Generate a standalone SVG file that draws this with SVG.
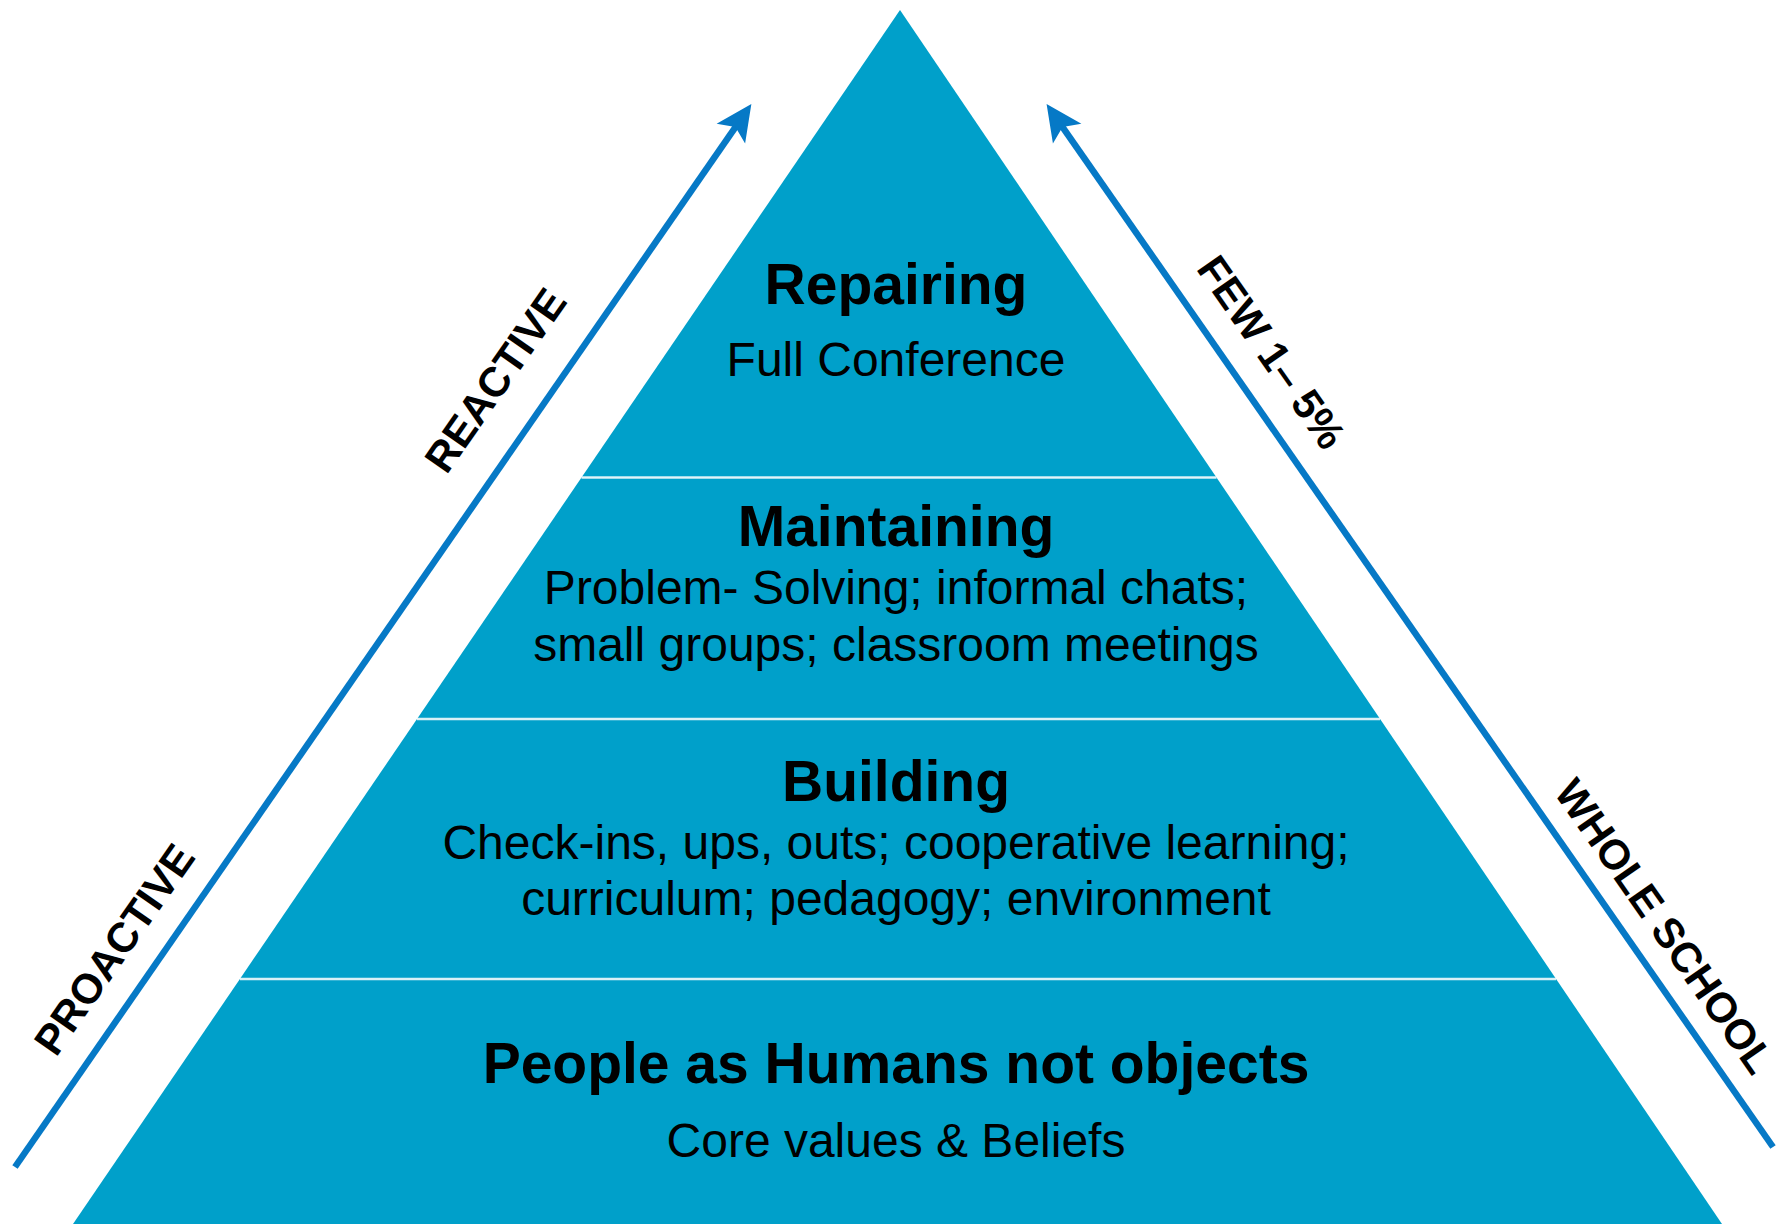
<svg xmlns="http://www.w3.org/2000/svg" width="1786" height="1225" viewBox="0 0 1786 1225">
<defs>
<style>
.tier{fill:#00A0CA;}
.sep{stroke:#FFFFFF;stroke-width:2.5;stroke-opacity:0.85;fill:none;}
.ttl{font-family:"Liberation Sans",Arial,sans-serif;font-weight:bold;font-size:57px;fill:#000;text-anchor:middle;}
.sub{font-family:"Liberation Sans",Arial,sans-serif;font-size:48px;fill:#000;text-anchor:middle;}
.side{font-family:"Liberation Sans",Arial,sans-serif;font-weight:bold;font-size:42px;fill:#000;text-anchor:middle;}
.arr{stroke:#0679C6;stroke-width:6.5;fill:none;}
</style>
<marker id="head" markerUnits="userSpaceOnUse" markerWidth="40" markerHeight="40" viewBox="-10 -15 30 30" refX="0" refY="0" orient="auto">
<path d="M18,0 L-9,-13 L-3,0 L-9,13 Z" fill="#0679C6"/>
</marker>
</defs>
<rect x="0" y="0" width="1786" height="1225" fill="#FFFFFF"/>

<g id="tier-repairing">
<polygon class="tier" points="900,10 1216.5,477.5 581.5,477.5"/>
<text class="ttl" x="896" y="304">Repairing</text>
<text class="sub" x="896" y="376">Full Conference</text>
</g>

<g id="tier-maintaining">
<polygon class="tier" points="581.5,477.5 1216.5,477.5 1380.1,719 417,719"/>
<text class="ttl" x="896" y="546">Maintaining</text>
<text class="sub" x="896" y="604">Problem- Solving; informal chats;</text>
<text class="sub" x="896" y="661">small groups; classroom meetings</text>
</g>

<g id="tier-building">
<polygon class="tier" points="417,719 1380.1,719 1556.1,979 239.9,979"/>
<text class="ttl" x="896" y="801">Building</text>
<text class="sub" x="896" y="859">Check-ins, ups, outs; cooperative learning;</text>
<text class="sub" x="896" y="915">curriculum; pedagogy; environment</text>
</g>

<g id="tier-people">
<polygon class="tier" points="239.9,979 1556.1,979 1722,1224 73,1224"/>
<text class="ttl" x="896" y="1083">People as Humans not objects</text>
<text class="sub" x="896" y="1157">Core values &amp; Beliefs</text>
</g>

<g id="separators">
<line class="sep" x1="581.5" y1="477.5" x2="1216.5" y2="477.5"/>
<line class="sep" x1="417" y1="719" x2="1380.1" y2="719"/>
<line class="sep" x1="239.9" y1="979" x2="1556.1" y2="979"/>
</g>

<g id="connectors">
<line class="arr" x1="15" y1="1167" x2="737.7" y2="123.8" marker-end="url(#head)"/>
<line class="arr" x1="1773" y1="1147" x2="1060.3" y2="123.8" marker-end="url(#head)"/>
</g>

<g id="label-proactive">
<text class="side" transform="translate(114,949) rotate(-55)" x="0" y="15">PROACTIVE</text>
</g>
<g id="label-reactive">
<text class="side" transform="translate(495,380) rotate(-55)" x="0" y="15">REACTIVE</text>
</g>
<g id="label-few">
<text class="side" transform="translate(1272,352) rotate(55)" x="0" y="15">FEW 1– 5%</text>
</g>
<g id="label-whole">
<text class="side" transform="translate(1665,926) rotate(55)" x="0" y="15">WHOLE SCHOOL</text>
</g>
</svg>
